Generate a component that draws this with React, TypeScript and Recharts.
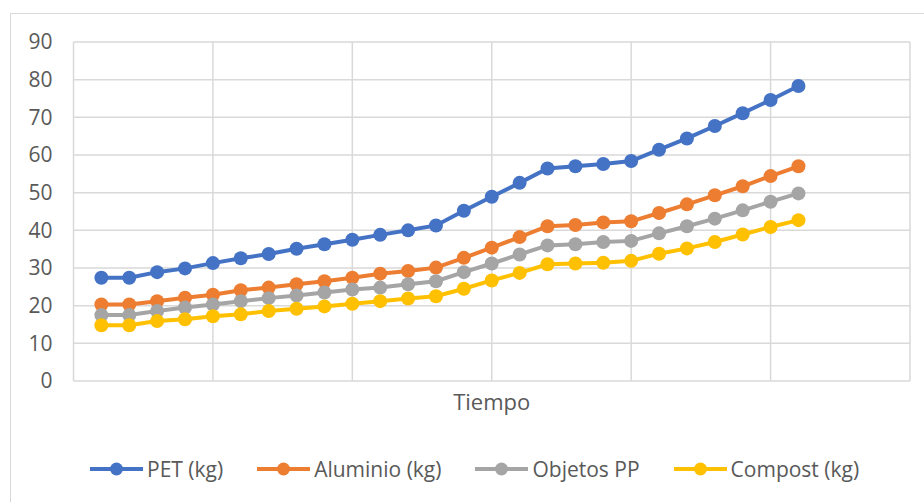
import { LineChart, Line, XAxis, YAxis, CartesianGrid, Legend, ReferenceLine } from 'recharts';

// Periodos de medición (eje de tiempo)
const periods = [
  1, 2, 3, 4, 5, 6, 7, 8, 9, 10, 11, 12, 13,
  14, 15, 16, 17, 18, 19, 20, 21, 22, 23, 24, 25, 26,
];

const pet = [
  27.4, 27.4, 28.9, 29.9, 31.3, 32.6, 33.7, 35.1, 36.3, 37.5, 38.8, 40.0, 41.3,
  45.2, 48.9, 52.6, 56.4, 57.0, 57.6, 58.4, 61.4, 64.4, 67.7, 71.1, 74.6, 78.3,
];
const aluminio = [
  20.3, 20.3, 21.2, 22.1, 22.9, 24.1, 24.8, 25.7, 26.5, 27.4, 28.5, 29.2, 30.1,
  32.7, 35.4, 38.2, 41.1, 41.4, 42.1, 42.4, 44.6, 46.9, 49.3, 51.7, 54.4, 57.0,
];
const objetosPP = [
  17.5, 17.5, 18.6, 19.5, 20.3, 21.2, 22.0, 22.7, 23.5, 24.3, 24.8, 25.7, 26.5,
  28.9, 31.2, 33.6, 36.0, 36.3, 36.9, 37.2, 39.2, 41.1, 43.1, 45.3, 47.6, 49.8,
];
const compost = [
  14.8, 14.8, 15.9, 16.4, 17.2, 17.7, 18.6, 19.2, 19.8, 20.5, 21.2, 21.9, 22.5,
  24.5, 26.7, 28.7, 31.0, 31.2, 31.4, 31.9, 33.8, 35.2, 36.9, 38.9, 40.9, 42.7,
];

const xTicks = [0, 5, 10, 15, 20, 25, 30];
const yTicks = [0, 10, 20, 30, 40, 50, 60, 70, 80, 90];

const series = [
  { key: 'pet', name: 'PET (kg)', color: '#4472C4' },
  { key: 'aluminio', name: 'Aluminio (kg)', color: '#ED7D31' },
  { key: 'objetos', name: 'Objetos PP', color: '#A5A5A5' },
  { key: 'compost', name: 'Compost (kg)', color: '#FFC000' },
];

const data = periods.map((t, i) => ({
  t,
  pet: pet[i],
  aluminio: aluminio[i],
  objetos: objetosPP[i],
  compost: compost[i],
}));

const FONT = '"Open Sans", sans-serif';
const TEXT = '#595959';
const GRID = '#d9d9d9';

function LegendRow() {
  return (
    <div style={{ display: 'flex', alignItems: 'center', gap: 34, fontFamily: FONT, fontSize: 21, color: TEXT, whiteSpace: 'nowrap' }}>
      {series.map((s) => (
        <div key={s.key} style={{ display: 'flex', alignItems: 'center' }}>
          <svg width={53} height={16}>
            <line x1={0} y1={8} x2={53} y2={8} stroke={s.color} strokeWidth={4} />
            <circle cx={26.5} cy={8} r={6.5} fill={s.color} />
          </svg>
          <span style={{ marginLeft: 4 }}>{s.name}</span>
        </div>
      ))}
    </div>
  );
}

export default function App() {
  return (
    <div style={{ position: 'absolute', left: 0, top: 0, width: 924, height: 502, background: '#fff', overflow: 'hidden' }}>
      <div style={{ position: 'absolute', left: 0, top: 0 }}>
        <LineChart
          width={924}
          height={502}
          data={data}
          margin={{ top: 42, right: 14, left: 10, bottom: 91 }}
        >
          <CartesianGrid stroke={GRID} strokeWidth={1.5} vertical={false} />
          {/* vertical grid every 5 periods, including the plot edges */}
          {xTicks.map((x) => (
            <ReferenceLine key={x} x={x} stroke={GRID} strokeWidth={1.5} ifOverflow="visible" />
          ))}
          <XAxis
            dataKey="t"
            type="number"
            domain={[0, 30]}
            ticks={xTicks}
            tick={false}
            tickLine={false}
            axisLine={false}
            height={30}
            label={{ value: 'Tiempo', position: 'insideTop', offset: 13, fill: TEXT, fontSize: 22, fontFamily: FONT }}
          />
          <YAxis
            type="number"
            domain={[0, 90]}
            ticks={yTicks}
            width={63.5}
            tickLine={false}
            axisLine={false}
            tickMargin={15}
            tick={{ fill: TEXT, fontSize: 21, fontFamily: FONT }}
          />
          <Legend
            layout="horizontal"
            verticalAlign="middle"
            align="center"
            wrapperStyle={{ top: 455, left: 90, width: 'auto' }}
            content={() => <LegendRow />}
          />
          {series.map((s) => (
            <Line
              key={s.key}
              dataKey={s.key}
              name={s.name}
              stroke={s.color}
              strokeWidth={4}
              dot={{ r: 7, fill: s.color, stroke: s.color, strokeWidth: 0 }}
              activeDot={false}
              isAnimationActive={false}
            />
          ))}
        </LineChart>
      </div>
      <div style={{ position: 'absolute', left: 10, top: 13, width: 940, height: 520, border: `1.5px solid ${GRID}`, pointerEvents: 'none' }} />
    </div>
  );
}
